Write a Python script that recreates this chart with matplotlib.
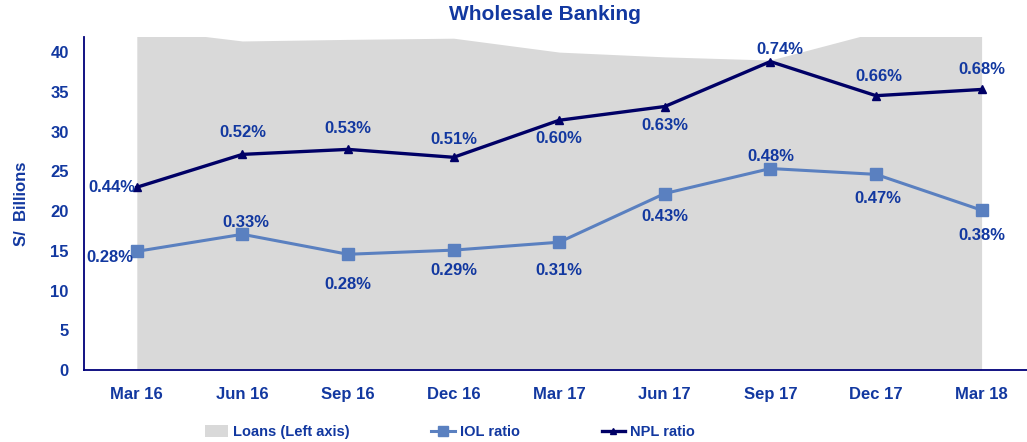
import numpy as np
import matplotlib
matplotlib.use("Agg")
import matplotlib.pyplot as plt
from matplotlib import font_manager
from matplotlib.patches import Patch
from matplotlib.lines import Line2D

plt.rcParams['font.family'] = ['Liberation Sans', 'DejaVu Sans']
plt.rcParams['font.weight'] = 'bold'

# data
quarters = ['Mar 16', 'Jun 16', 'Sep 16', 'Dec 16', 'Mar 17', 'Jun 17', 'Sep 17', 'Dec 17', 'Mar 18']
loans = [43.0, 41.4, 41.6, 41.75, 40.0, 39.4, 39.0, 42.5, 43.0]
npl = [0.439, 0.518, 0.530, 0.511, 0.600, 0.633, 0.741, 0.659, 0.674]
iol = [0.285, 0.326, 0.278, 0.288, 0.307, 0.424, 0.484, 0.470, 0.384]
npl_labels = ['0.44%', '0.52%', '0.53%', '0.51%', '0.60%', '0.63%', '0.74%', '0.66%', '0.68%']
iol_labels = ['0.28%', '0.33%', '0.28%', '0.29%', '0.31%', '0.43%', '0.48%', '0.47%', '0.38%']

# label offsets in pixels (dx, dy; dy positive = up)
npl_off = [(-25, 0), (0, 22), (0, 21), (0, 18), (0, -18), (0, -19), (9, 12), (3, 19), (0, 20)]
iol_off = [(-27, -6), (3, 12), (0, -30), (0, -20), (0, -28), (0, -23), (0, 12), (2, -24), (0, -25)]

txt = '#1238A0'
navy = '#000066'
iol_c = '#5A80C0'
grey = '#D9D9D9'

fig = plt.figure(figsize=(10.27, 4.42), dpi=100)
ax = fig.add_axes([84 / 1027, 1 - 370 / 442, 1 - 84 / 1027, 333 / 442])
x = np.arange(len(quarters))

ax.fill_between(x, 0, loans, color=grey, lw=0, zorder=1)
ax.set_xlim(-0.5, 8.43)
ax.set_ylim(0, 41.9)
ax.set_yticks(range(0, 41, 5))
ax.set_xticks(x)
ax.set_xticklabels(quarters)
ax.tick_params(length=0, labelsize=12, labelcolor=txt, pad=12)
ax.tick_params(axis='y', pad=11)
for lab in ax.get_xticklabels() + ax.get_yticklabels():
    lab.set_fontweight('bold')
for s in ['top', 'right']:
    ax.spines[s].set_visible(False)
for s in ['left', 'bottom']:
    ax.spines[s].set_color('#00007A')
    ax.spines[s].set_linewidth(1.3)
ax.set_ylabel('S/  Billions', fontsize=12, color=txt, fontweight='bold', labelpad=15)

ax2 = ax.twinx()
ax2.set_ylim(0, 0.8)
ax2.axis('off')
ax2.plot(x, iol, color=iol_c, lw=2.2, marker='s', ms=8, zorder=3)
ax2.plot(x, npl, color=navy, lw=2.4, marker='^', ms=6, zorder=4)

for xi, v, lab, (dx, dy) in zip(x, npl, npl_labels, npl_off):
    ax2.annotate(lab, (xi, v), xytext=(dx * 0.72, dy * 0.72), textcoords='offset points',
                 ha='center', va='center', fontsize=12, color=txt, fontweight='bold', zorder=5)
for xi, v, lab, (dx, dy) in zip(x, iol, iol_labels, iol_off):
    ax2.annotate(lab, (xi, v), xytext=(dx * 0.72, dy * 0.72), textcoords='offset points',
                 ha='center', va='center', fontsize=12, color=txt, fontweight='bold', zorder=5)

fig.text(0.531, 1 - 14 / 442, 'Wholesale Banking', ha='center', va='center',
         fontsize=15, color=txt, fontweight='bold')

names = [f.name for f in font_manager.fontManager.ttflist]
leg_font = 'Liberation Sans Narrow' if 'Liberation Sans Narrow' in names else 'Liberation Sans'
handles = [Patch(facecolor=grey, edgecolor='none'),
           Line2D([], [], color=iol_c, lw=2.2, marker='s', ms=7),
           Line2D([], [], color=navy, lw=2.4, marker='^', ms=5)]
fig.legend(handles, ['Loans (Left axis)', 'IOL ratio', 'NPL ratio'],
           loc='center', bbox_to_anchor=(0.438, 1 - 432 / 442), ncol=3, frameon=False,
           handlelength=1.6, handleheight=0.8, handletextpad=0.35, columnspacing=5.6,
           prop={'family': leg_font, 'weight': 'bold', 'size': 10.5}, labelcolor=txt)

fig.savefig('out.png', dpi=100)
